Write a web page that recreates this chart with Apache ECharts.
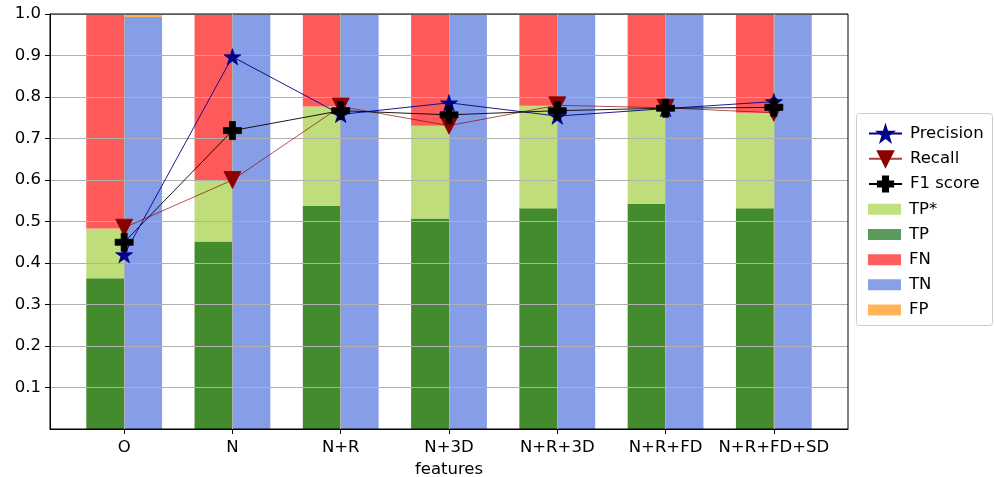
<!DOCTYPE html>
<html>
<head>
<meta charset="utf-8">
<script src="https://cdn.jsdelivr.net/npm/echarts@6/dist/echarts.min.js"></script>
<style>
html,body{margin:0;padding:0;background:#fff;}
#chart{width:995px;height:477px;}
</style>
</head>
<body>
<div id="chart"></div>
<script>
// ---- data ----
const categories = ['O', 'N', 'N+R', 'N+3D', 'N+R+3D', 'N+R+FD', 'N+R+FD+SD'];
const tp     = [0.363, 0.452, 0.538, 0.507, 0.532, 0.543, 0.532];
const tpStar = [0.120, 0.148, 0.239, 0.224, 0.247, 0.230, 0.230];
const fn     = [0.517, 0.400, 0.223, 0.269, 0.221, 0.227, 0.238];
const tn     = [0.993, 1.000, 1.000, 1.000, 1.000, 1.000, 1.000];
const fp     = [0.007, 0.000, 0.000, 0.000, 0.000, 0.000, 0.000];
const precision = [0.420, 0.897, 0.758, 0.786, 0.754, 0.772, 0.789];
const recall    = [0.485, 0.600, 0.777, 0.731, 0.780, 0.774, 0.762];
const f1        = [0.450, 0.719, 0.767, 0.757, 0.767, 0.773, 0.775];
const yTicks = [0.1, 0.2, 0.3, 0.4, 0.5, 0.6, 0.7, 0.8, 0.9, 1.0];

// ---- marker shapes ----
const STAR = 'path://M100,0 L122.45,69.1 L195.1,69.1 L136.3,111.8 L158.8,180.9 L100,138.2 L41.2,180.9 L63.7,111.8 L4.9,69.1 L77.55,69.1 Z';
const TRI_DOWN = 'path://M0,0 L2,0 L1,2 Z';
const PLUS = 'path://M2,0 H4 V2 H6 V4 H4 V6 H2 V4 H0 V2 H2 Z';

const FONT = 'DejaVu Sans';
const FS = 16.5;
const BW = 37.9;
const catIdx = categories.map((c, i) => i);

function barSeries(name, arr, stack, color) {
  return {
    name, type: 'bar', stack,
    // value first so that the stacked dimension is the y value
    data: arr.map((v, i) => [v, i]), encode: { x: 1, y: 0 },
    barWidth: BW, barGap: '0%',
    itemStyle: { color }, z: 2, silent: true
  };
}
function lineSeries(name, arr, color, symbol, size, lineOpacity, z) {
  return {
    name, type: 'line', data: arr.map((v, i) => [i, v]), symbol, symbolSize: size, symbolKeepAspect: true,
    lineStyle: { color, width: 0.9, opacity: lineOpacity },
    itemStyle: { color, borderColor: color, borderWidth: 0.8 },
    z, silent: true
  };
}

const series = [
  lineSeries('Precision', precision, '#00008b', STAR, 17, 1, 10),
  lineSeries('Recall', recall, '#8b0000', TRI_DOWN, 17, 0.75, 11),
  lineSeries('F1 score', f1, '#000000', PLUS, 18, 1, 12),
  barSeries('TP', tp, 'pos', '#448b2d'),
  barSeries('TP*', tpStar, 'pos', '#bfdd7b'),
  barSeries('FN', fn, 'pos', '#ff5a5a'),
  barSeries('TN', tn, 'neg', '#869ee8'),
  barSeries('FP', fp, 'neg', '#ffb155')
];
// vertical grid lines at category ticks, drawn over the bars
series[0].markLine = {
  silent: true, symbol: ['none', 'none'], z: 5, animation: false,
  label: { show: false },
  lineStyle: { color: '#b0b0b0', width: 1, type: 'solid', opacity: 1 },
  emphasis: { disabled: true },
  data: catIdx.map((i) => ({ xAxis: i }))
};

const chart = echarts.init(document.getElementById('chart'), null, { renderer: 'canvas' });
chart.setOption({
  animation: false,
  backgroundColor: '#fff',
  textStyle: { fontFamily: FONT },
  grid: { left: 50, right: 147, top: 14, bottom: 48, outerBoundsMode: 'none', containLabel: false,
          show: true, borderColor: '#000', borderWidth: 1, z: 4, backgroundColor: 'transparent' },
  xAxis: {
    type: 'value', min: -0.685, max: 6.685,
    name: 'features', nameLocation: 'middle', nameGap: 31,
    nameTextStyle: { fontFamily: FONT, fontSize: FS, color: '#000' },
    axisLine: { show: true, onZero: false, lineStyle: { color: '#000', width: 1 } },
    axisTick: { show: true, customValues: catIdx, length: 5, lineStyle: { color: '#000' } },
    axisLabel: { customValues: catIdx, formatter: (v) => categories[Math.round(v)], fontFamily: FONT, fontSize: FS, color: '#000', margin: 10 },
    splitLine: { show: false }
  },
  yAxis: {
    type: 'value', min: 0, max: 1, interval: 0.1, z: 3,
    axisLine: { show: true, onZero: false, lineStyle: { color: '#000', width: 1 } },
    axisTick: { show: true, customValues: yTicks, length: 5, lineStyle: { color: '#000' } },
    axisLabel: { customValues: yTicks, fontFamily: FONT, fontSize: FS, color: '#000', margin: 9,
      formatter: (v) => v.toFixed(1) },
    splitLine: { show: true, lineStyle: { color: '#b0b0b0', width: 1 } }
  },
  graphic: [{
    type: 'rect', left: 856, top: 113, z: 0,
    shape: { width: 136, height: 212, r: 3 },
    style: { fill: '#fff', stroke: '#cccccc', lineWidth: 1 }
  }],
  legend: [
    {
      orient: 'vertical', left: 863, top: 120, itemWidth: 33, itemHeight: 19, itemGap: 8,
      data: ['Precision', 'Recall', 'F1 score'], selectedMode: false,
      textStyle: { fontFamily: FONT, fontSize: FS, color: '#000', padding: [0, 0, 0, 3] },
      iconRotate: 0
    },
    {
      orient: 'vertical', left: 863, top: 195.75, itemWidth: 33, itemHeight: 11, itemGap: 8.2,
      icon: 'rect', selectedMode: false,
      data: [
        { name: 'TP*', itemStyle: { color: '#c0e07c' } },
        { name: 'TP', itemStyle: { color: '#5a9a5a' } },
        { name: 'FN', itemStyle: { color: '#ff5e5e' } },
        { name: 'TN', itemStyle: { color: '#88a0e8' } },
        { name: 'FP', itemStyle: { color: '#ffb457' } }
      ],
      textStyle: { fontFamily: FONT, fontSize: FS, color: '#000', lineHeight: FS, padding: [0, 0, 0, 3] }
    }
  ],
  series
});
</script>
</body>
</html>
